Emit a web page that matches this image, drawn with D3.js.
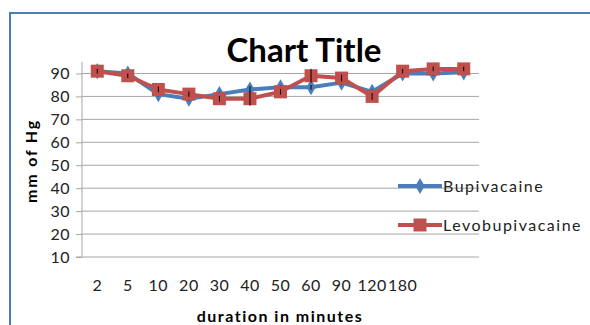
<!DOCTYPE html>
<html>
<head>
<meta charset="utf-8">
<script src="https://cdn.jsdelivr.net/npm/d3@7"></script>
<style>
  html, body { margin: 0; padding: 0; background: #fff; }
  svg { display: block; font-family: Lato, "Open Sans", sans-serif; }
</style>
</head>
<body>
<svg id="chart" width="590" height="325"></svg>
<script>
// Time points after injection (minutes); the last two points carry no label
const categories = ["2", "5", "10", "20", "30", "40", "50", "60", "90", "120", "180", "", " "];
const bupivacaine = [91, 90, 81, 79, 81, 83, 84, 84, 86, 82, 90, 90, 90.5];
const levobupivacaine = [91, 89, 83, 81, 79, 79, 82, 89, 88, 80, 91, 92, 92];
const bupivacaineErr = [1, 1, 1, 1, 1, 1.5, 1, 1, 1, 1, 1, 1, 1];
const levobupivacaineErr = [1, 1, 1.2, 1.2, 1.2, 3, 1.2, 3, 1.5, 1.5, 1, 1, 1];
const yTicks = [10, 20, 30, 40, 50, 60, 70, 80, 90];
const seriesNames = ["Bupivacaine", "Levobupivacaine"];

const blue = "#4a7ebb";
const red = "#c0504d";

const svg = d3.select("#chart");
const plot = { left: 82, right: 479, top: 62, bottom: 257 };

const x = d3.scaleBand().domain(categories).range([plot.left, plot.right]);
const y = d3.scaleLinear().domain([10, 95]).range([plot.bottom, plot.top]);
const cx = i => x(categories[i]) + x.bandwidth() / 2;

// Outer chart frame
svg.append("path")
  .attr("d", "M10,325 L10,13 L590,13")
  .attr("fill", "none").attr("stroke", blue).attr("stroke-width", 2);

// Horizontal gridlines
svg.append("g").selectAll("line").data(yTicks.slice(1)).join("line")
  .attr("x1", plot.left).attr("x2", plot.right)
  .attr("y1", d => y(d)).attr("y2", d => y(d))
  .attr("stroke", "#a6a6a6").attr("stroke-width", 1);

// Y axis
const yAxis = svg.append("g").attr("transform", `translate(${plot.left},0)`)
  .call(d3.axisLeft(y).tickValues(yTicks).tickSize(6).tickPadding(6));
yAxis.select(".domain").attr("stroke", "#a6a6a6").attr("d", `M0,${plot.top}V${plot.bottom}`);
yAxis.selectAll(".tick line").attr("stroke", "#a6a6a6");
yAxis.selectAll("text").attr("font-size", 16).attr("fill", "#222").attr("letter-spacing", 0.5)
  .attr("font-family", "Lato, 'Open Sans', sans-serif");

// X axis
const xAxis = svg.append("g").attr("transform", `translate(0,${plot.bottom})`)
  .call(d3.axisBottom(x).tickSize(0).tickPadding(23));
xAxis.select(".domain").attr("stroke", "#a6a6a6").attr("d", `M${plot.left - 6},0H${plot.right}`);
xAxis.selectAll("text").attr("font-size", 16).attr("fill", "#222").attr("letter-spacing", 0.5)
  .attr("font-family", "Lato, 'Open Sans', sans-serif");

// Series lines, markers and error bars
const line = d3.line().x((d, i) => cx(i)).y(d => y(d));

function drawSeries(values, errs, color, marker) {
  const g = svg.append("g");
  g.append("path").datum(values)
    .attr("d", line).attr("fill", "none")
    .attr("stroke", color).attr("stroke-width", 4).attr("stroke-linejoin", "round");
  if (marker === "diamond") {
    g.selectAll("path.m").data(values).join("path").attr("class", "m")
      .attr("d", d3.symbol().type(d3.symbolDiamond).size(75))
      .attr("transform", (d, i) => `translate(${cx(i)},${y(d)})`)
      .attr("fill", color);
  } else {
    g.selectAll("rect.m").data(values).join("rect").attr("class", "m")
      .attr("x", (d, i) => cx(i) - 6.5).attr("y", d => y(d) - 6.5)
      .attr("width", 13).attr("height", 13).attr("fill", color);
  }
  g.selectAll("line.err").data(values).join("line").attr("class", "err")
    .attr("x1", (d, i) => cx(i)).attr("x2", (d, i) => cx(i))
    .attr("y1", (d, i) => y(d + errs[i])).attr("y2", (d, i) => y(d - errs[i]))
    .attr("stroke", "#000").attr("stroke-width", 1);
}
drawSeries(bupivacaine, bupivacaineErr, blue, "diamond");
drawSeries(levobupivacaine, levobupivacaineErr, red, "square");

// Title and axis titles
svg.append("text").attr("x", 304).attr("y", 62).attr("text-anchor", "middle")
  .attr("font-size", 33).attr("font-weight", "bold").attr("fill", "#000").text("Chart Title");
svg.append("text").attr("transform", "translate(37,161) rotate(-90)").attr("text-anchor", "middle")
  .attr("font-size", 16).attr("font-weight", "bold").attr("letter-spacing", 1.8)
  .attr("fill", "#000").text("mm of Hg");
svg.append("text").attr("x", 280).attr("y", 322).attr("text-anchor", "middle")
  .attr("font-size", 16).attr("font-weight", "bold").attr("letter-spacing", 1.5)
  .attr("fill", "#000").text("duration in minutes");

// Legend
const legend = svg.append("g");
const legendY = [186, 225];
seriesNames.forEach((name, i) => {
  const color = i === 0 ? blue : red;
  const ly = legendY[i];
  legend.append("line").attr("x1", 398).attr("x2", 442).attr("y1", ly).attr("y2", ly)
    .attr("stroke", color).attr("stroke-width", 4);
  if (i === 0) {
    legend.append("path").attr("d", d3.symbol().type(d3.symbolDiamond).size(75))
      .attr("transform", `translate(420,${ly})`).attr("fill", color);
  } else {
    legend.append("rect").attr("x", 413.5).attr("y", ly - 6.5).attr("width", 13).attr("height", 13)
      .attr("fill", color);
  }
  legend.append("text").attr("x", 443).attr("y", ly + 6).attr("font-size", 16)
    .attr("letter-spacing", 1.5).attr("fill", "#222").text(name);
});
</script>
</body>
</html>
